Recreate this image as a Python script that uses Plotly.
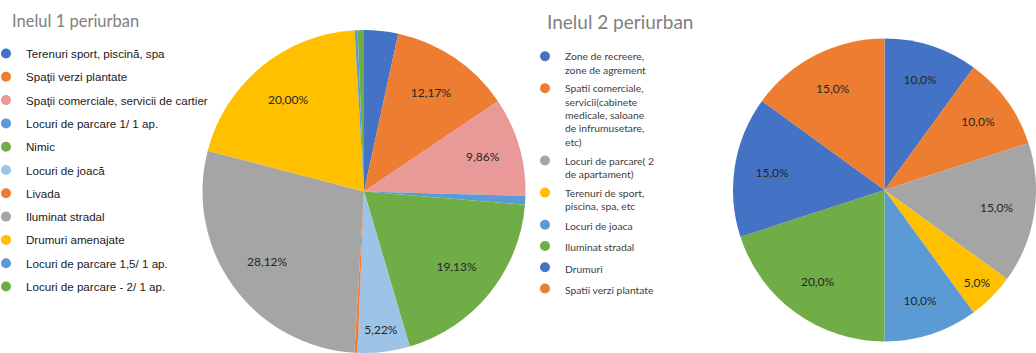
import plotly.graph_objects as go

W, H = 1036, 353

# Inelul 1 periurban
ring1_labels = [
    "Terenuri sport, piscină, spa",
    "Spaţii verzi plantate",
    "Spaţii comerciale, servicii de cartier",
    "Locuri de parcare 1/ 1 ap.",
    "Nimic",
    "Locuri de joacă",
    "Livada",
    "Iluminat stradal",
    "Drumuri amenajate",
    "Locuri de parcare 1,5/ 1 ap.",
    "Locuri de parcare - 2/ 1 ap.",
]
ring1_values = [3.40, 12.17, 9.86, 0.87, 19.13, 5.22, 0.30, 28.12, 20.00, 0.30, 0.63]
ring1_labelled = [False, True, True, False, True, True, False, True, True, False, False]
ring1_colors = ["#4472C4", "#ED7D31", "#EA9999", "#5B9BD5", "#70AD47", "#9DC3E6",
                "#ED7D31", "#A5A5A5", "#FFC000", "#5B9BD5", "#70AD47"]

# Inelul 2 periurban
ring2_labels = [
    "Zone de recreere,<br>zone de agrement",
    "Spatii comerciale,<br>servicii(cabinete<br>medicale, saloane<br>de infrumusetare,<br>etc)",
    "Locuri de parcare( 2<br>de apartament)",
    "Terenuri de sport,<br>piscina, spa, etc",
    "Locuri de joaca",
    "Iluminat stradal",
    "Drumuri",
    "Spatii verzi plantate",
]
ring2_values = [10.0, 10.0, 15.0, 5.0, 10.0, 20.0, 15.0, 15.0]
ring2_colors = ["#4472C4", "#ED7D31", "#A5A5A5", "#FFC000", "#5B9BD5", "#70AD47",
                "#4472C4", "#ED7D31"]


def pct(v, decimals):
    return f"{v:.{decimals}f}%".replace(".", ",")


ring1_text = [pct(v, 2) if show else "" for v, show in zip(ring1_values, ring1_labelled)]
ring2_text = [pct(v, 1) for v in ring2_values]

dom1 = dict(x=[202 / W, 526 / W], y=[0, 1 - 30 / H])
dom2 = dict(x=[733 / W, 1.0], y=[1 - 346 / H, 1 - 34 / H])
label_font = dict(family="Lato", size=12, color="#262626")

fig = go.Figure()


def add_ring(labels, values, colors, text, domain, label_hole):
    # coloured slices
    fig.add_trace(go.Pie(
        labels=labels, values=values, textinfo="none",
        marker=dict(colors=colors, line=dict(width=0)),
        sort=False, direction="clockwise", rotation=0, showlegend=False,
        domain=domain, hoverinfo="label+percent",
    ))
    # percentage labels, set out on a ring at about three quarters of the radius
    fig.add_trace(go.Pie(
        labels=labels, values=values, text=text, hole=label_hole,
        textinfo="text", textposition="inside", insidetextorientation="horizontal",
        textfont=label_font,
        marker=dict(colors=["rgba(0,0,0,0)"] * len(values), line=dict(width=0)),
        sort=False, direction="clockwise", rotation=0, showlegend=False,
        domain=domain, hoverinfo="skip",
    ))


add_ring(ring1_labels, ring1_values, ring1_colors, ring1_text, dom1, 0.48)
add_ring(ring2_labels, ring2_values, ring2_colors, ring2_text, dom2, 0.50)

# legend entries with round markers
for i, (lab, col) in enumerate(zip(ring1_labels, ring1_colors)):
    fig.add_trace(go.Scatter(
        x=[None], y=[None], mode="markers", name=lab,
        marker=dict(symbol="circle", size=10, color=col),
        legend="legend", legendgroup=f"r1_{i}", showlegend=True,
    ))
for i, (lab, col) in enumerate(zip(ring2_labels, ring2_colors)):
    fig.add_trace(go.Scatter(
        x=[None], y=[None], mode="markers", name=lab,
        marker=dict(symbol="circle", size=10, color=col),
        legend="legend2", legendgroup=f"r2_{i}", showlegend=True,
    ))

fig.update_layout(
    width=W, height=H,
    margin=dict(l=0, r=0, t=0, b=0),
    paper_bgcolor="white", plot_bgcolor="white",
    xaxis=dict(visible=False), yaxis=dict(visible=False),
    legend=dict(
        x=0, y=1 - 39 / H, xanchor="left", yanchor="top", indentation=-14,
        font=dict(family="Liberation Sans", size=11.6, color="#1a1a1a"),
        tracegroupgap=4.3, bgcolor="rgba(0,0,0,0)", itemclick=False,
    ),
    legend2=dict(
        x=525 / W, y=1 - 43 / H, xanchor="left", yanchor="top",
        font=dict(family="Lato", size=10.3, color="#404040"),
        tracegroupgap=2.3, valign="top", bgcolor="rgba(0,0,0,0)", itemclick=False,
    ),
    annotations=[
        dict(text="Inelul 1 periurban", x=10 / W, y=1 - 21 / H, xref="paper", yref="paper",
             xanchor="left", yanchor="middle", showarrow=False,
             font=dict(family="Lato", size=16.5, color="#808080")),
        dict(text="Inelul 2 periurban", x=545 / W, y=1 - 21 / H, xref="paper", yref="paper",
             xanchor="left", yanchor="middle", showarrow=False,
             font=dict(family="Lato", size=19, color="#808080")),
    ],
)

fig.write_html("out.html")
